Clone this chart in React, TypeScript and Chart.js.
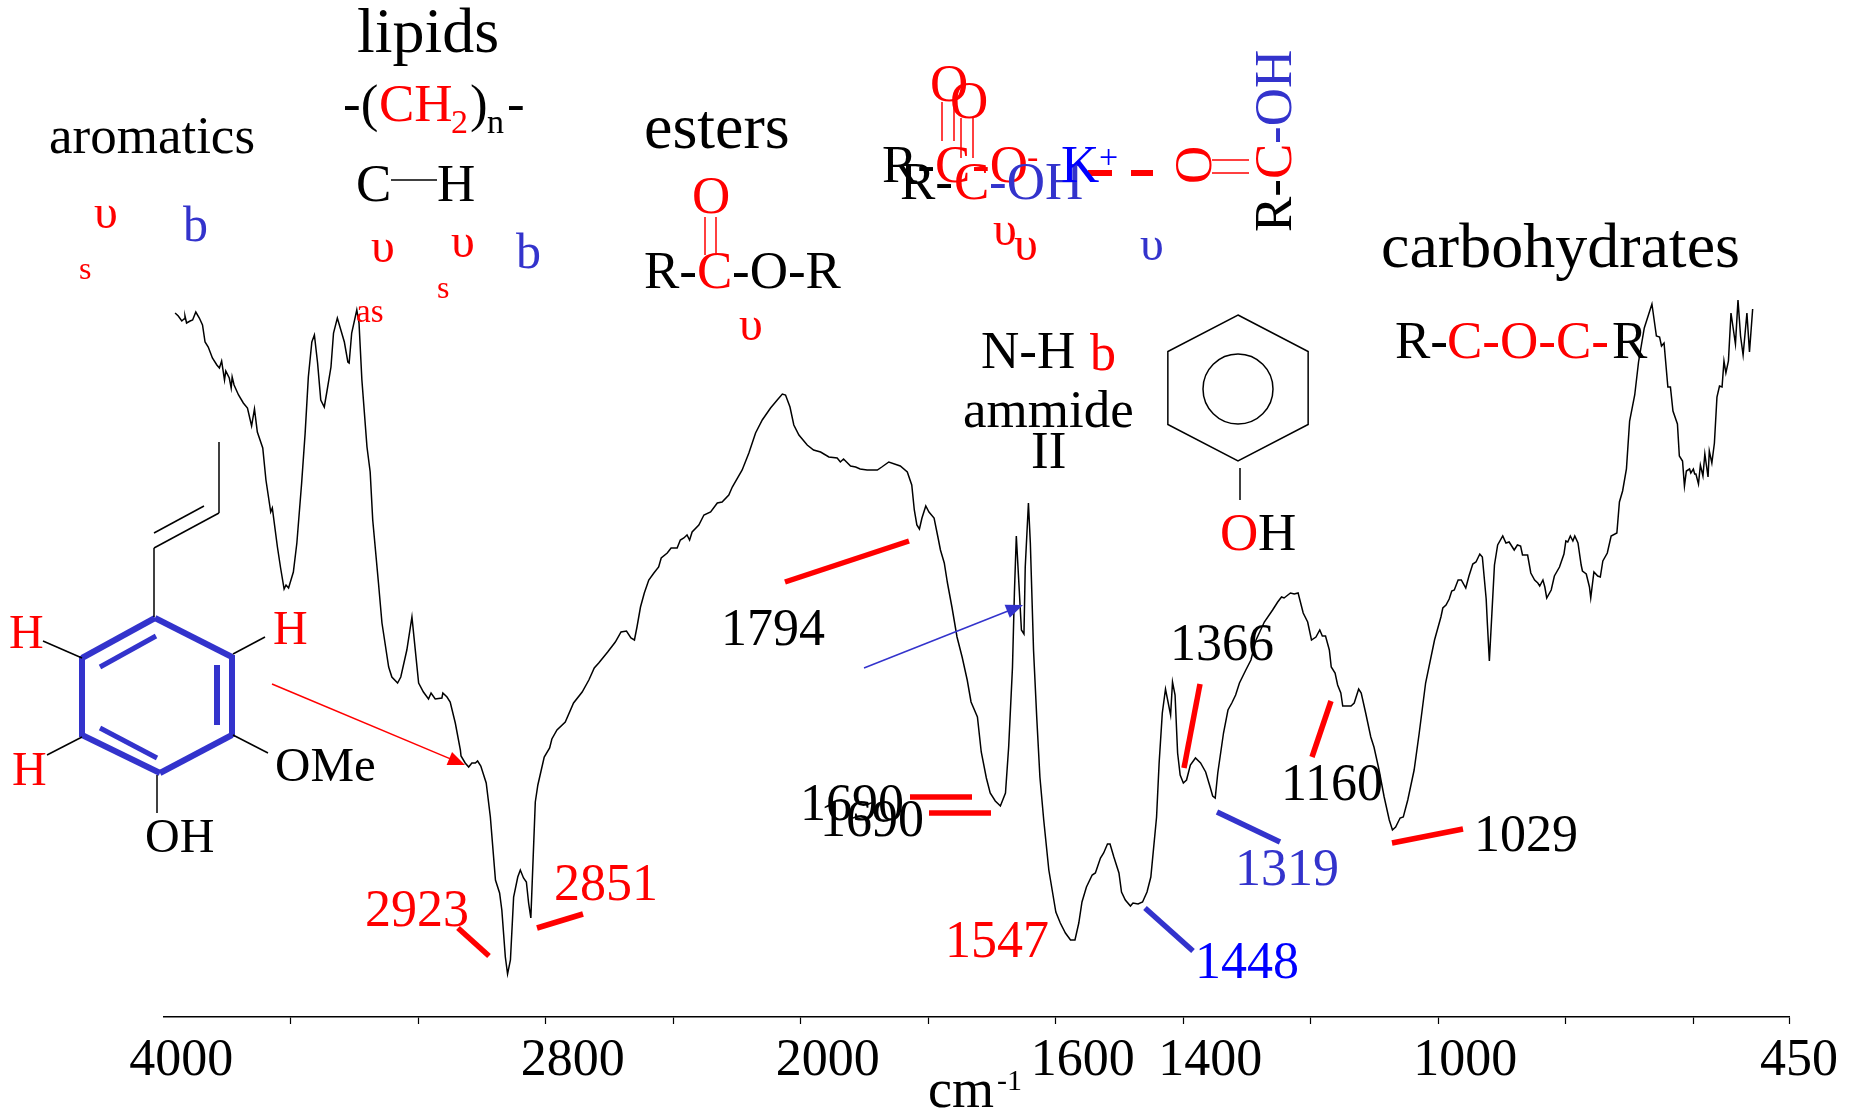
import React, { useEffect, useRef } from "react";
import { Chart, registerables } from "chart.js";

Chart.register(...registerables);

const FONT = '"Liberation Serif", "Times New Roman", serif';
const RED = "#ff0000";
const BLUE = "#3333cc";
const PURE = "#0000ff";
const BLACK = "#000000";

// Wavenumbers (cm-1) of the spectrum, high to low, by stretch of the curve
const wnAromatic = [3963,3953,3942,3935,3932,3927,3916,3908,3898,3887,3877,3869,3859,3846,3832,3824,3817,3808,3804,3793,3787,3784,3778,3764,3749,3736,3723,3714,3705,3688,3678,3663,3658,3642,3632,3621,3615,3607,3592,3581,3566,3555,3545,3534,3526,3516,3506,3495,3487,3474,3466,3454,3432,3421,3417,3409,3393,3386,3377,3361,3351,3343,3325,3314,3293,3283,3265,3255,3236,3220,3199,3184,3168,3160,3147,3126,3123,3110,3100,3084,3068];
const tAromatic = [70.4,70.1,69.6,69.8,70.1,69.4,69.6,69.7,70.5,69.9,69.2,67.5,67.0,65.9,65.2,64.9,65.6,63.7,64.6,63.9,62.9,64.0,63.2,62.2,61.4,60.9,59.1,60.8,58.5,56.9,53.7,50.5,50.9,47.0,44.9,42.8,43.2,42.9,44.5,47.4,53.4,58.4,64.0,67.5,68.2,65.4,61.7,61.0,62.5,65.0,68.4,69.9,67.5,65.5,65.4,68.4,70.7,69.4,63.7,57.0,54.5,49.7,43.4,39.4,35.0,34.0,33.4,34.0,36.7,40.0,33.4,32.5,31.8,32.4,31.8,31.9,32.4,32.0,31.5,29.4,26.7];

const wnLipid = [3066,3053,3042,3032,3021,3014,3004,2987,2974,2958,2945,2938,2927,2920,2911,2901,2888,2880,2870,2861,2854,2847,2840,2833,2825,2805,2788,2781,2765,2739,2713,2686,2665];
const tLipid = [26.1,25.4,25.0,25.4,25.4,25.6,25.1,23.4,20.0,13.7,12.4,10.7,6.0,4.3,5.7,12.0,14.0,14.7,13.9,13.5,11.4,9.9,15.7,21.5,23.2,26.0,26.9,27.8,28.7,29.5,31.4,32.5,33.7];

const wnMiddle = [2648,2634,2606,2582,2564,2547,2533,2522,2514,2503,2491,2477,2461,2446,2438,2419,2407,2388,2378,2367,2357,2349,2341,2320,2304,2283,2262,2247,2226,2215,2184,2163,2142,2121,2095,2074,2058,2048,2034,2022,2006,1990,1980,1969,1956,1943,1938,1933,1922,1914,1907,1896,1880,1873,1862,1844,1833,1826,1822,1818,1814,1810,1804,1799,1791,1785,1781];
const tMiddle = [34.9,35.4,36.5,37.5,38.5,38.6,37.9,37.7,39.0,41.0,42.4,43.7,44.4,45.0,45.9,46.4,46.9,46.9,47.7,47.9,48.2,47.7,48.5,49.2,50.2,50.5,51.4,51.5,52.2,53.0,54.7,56.4,58.4,59.7,60.9,61.7,62.3,62.2,61.0,59.2,58.2,57.2,56.7,56.5,56.0,55.9,55.5,55.8,55.1,55.0,54.8,54.7,54.7,55.0,55.5,55.1,54.5,53.2,50.7,49.2,48.8,49.9,51.1,50.5,49.9,48.0,46.7];

const wnAmide = [1775,1770,1763,1755,1747,1739,1733,1723,1717,1709,1703,1695,1687,1679,1674,1668,1665,1662,1658,1654,1650,1648,1643,1640,1635,1630,1625,1619,1611,1600,1593,1585,1577,1570,1564,1559,1552,1543,1538,1530,1525,1519,1515,1509,1501,1497,1491,1483,1479,1471,1464,1457,1451,1442,1438,1433,1428,1420,1417,1413,1409,1405,1400,1395,1389,1381];
const tAmide = [45.4,43.4,41.0,38.0,36.0,33.7,31.5,30.0,26.5,23.9,22.4,21.6,21.1,22.4,27.0,35.0,42.4,48.1,43.4,38.7,38.3,45.0,51.4,47.4,36.7,30.0,24.0,19.7,14.7,10.5,9.4,8.4,7.7,7.7,9.4,11.5,13.0,14.2,14.4,15.9,16.4,17.3,17.3,16.0,14.4,12.5,11.7,11.1,11.4,11.3,11.5,12.5,14.0,20.0,25.4,30.4,32.8,30.2,33.5,32.2,26.4,24.2,23.4,23.7,25.2,25.9];

const wnCarb = [1373,1365,1358,1354,1350,1346,1337,1330,1324,1318,1312,1302,1294,1286,1273,1260,1252,1246,1242,1232,1226,1220,1212,1205,1199,1192,1186,1182,1177,1171,1168,1162,1158,1153,1150,1143,1137,1132,1125,1121,1114,1106,1101,1093,1085,1077,1072,1067,1060,1055,1048,1038,1030,1020,1006,996];
const tCarb = [25.4,24.5,23.0,22.1,21.9,24.4,28.4,30.7,31.4,32.2,33.4,34.7,35.7,37.7,39.5,40.7,41.5,42.0,41.9,42.4,42.3,42.4,40.4,39.5,37.7,38.0,38.7,38.1,38.1,36.7,35.0,34.4,33.2,32.4,31.1,31.1,31.1,31.4,32.8,32.4,30.4,28.0,27.0,24.7,22.0,19.7,18.7,19.0,19.9,20.0,21.7,24.7,28.4,33.4,37.7,40.0];

const wnFinger = [993,988,983,979,975,969,964,957,952,946,941,935,931,925,923,920,916,912,907,899,894,889,881,876,871,868,860,855,849,844,841,836,833,830,823,818,810,803,800,797,793,789,786,781,776,774,768,763,761,756,750,746,742,735,729,720,716,711,705,700,692,686,677,665,658,653,650,646,640,636,632,625,622,617,614,611,606,604,600,598,596,592,589,585,582,577,575,571,567,563,559,555,552,549,545,541,534,530,526,522,516,512,507];
const tFinger = [40.9,41.2,41.8,42.6,42.7,43.7,43.7,42.9,44.1,45.3,45.5,46.3,46.0,41.8,39.2,35.6,40.4,45.2,47.2,48.1,47.4,47.5,46.7,47.2,47.1,46.2,46.2,44.4,43.7,43.4,43.1,43.7,43.0,41.9,42.7,44.1,45.0,46.3,47.6,47.5,48.1,47.6,48.1,47.4,45.2,44.6,44.3,43.0,41.9,44.5,44.1,44.0,45.6,46.4,48.1,48.4,51.5,52.6,54.8,59.6,62.2,65.5,68.9,71.3,68.1,68.0,67.1,67.4,63.0,63.0,60.6,59.3,56.1,55.6,53.1,54.6,54.8,54.4,54.8,54.3,54.3,53.3,55.2,54.1,56.3,54.0,56.6,55.4,57.4,62.0,63.1,63.0,65.6,64.4,65.6,70.4,67.3,71.7,68.1,66.2,70.4,66.5,70.8];

const wavenumbers = [...wnAromatic, ...wnLipid, ...wnMiddle, ...wnAmide, ...wnCarb, ...wnFinger];
const transmittance = [...tAromatic, ...tLipid, ...tMiddle, ...tAmide, ...tCarb, ...tFinger];

// Axis: the instrument's scale doubles its resolution below 2000 cm-1
const axisTicks = [4000, 3600, 3200, 2800, 2400, 2000, 1800, 1600, 1400, 1200, 1000, 800, 600, 450];
const labelledTicks = [4000, 2800, 2000, 1600, 1400, 1000, 450];
const labelNudge: Record<string, number> = { "4000": -9, "450": -17 };
const toAxis = (wn: number) => (wn >= 2000 ? (4000 - wn) / 400 : 5 + (2000 - wn) / 200);

// Annotations, in page pixels: text, x, baseline, size, colour, rotated
type Note = [string, number, number, number, string, boolean?];
const notes: Note[] = [
  ["aromatics", 49, 153, 53, BLACK],
  ["υ", 94, 228, 48, RED], ["s", 79, 279, 32, RED], ["b", 183, 241, 50, BLUE],
  ["lipids", 357, 52, 64, BLACK],
  ["-(", 343, 121, 53, BLACK], ["CH", 379, 121, 53, RED], ["2", 451, 133, 34, RED],
  [")", 470, 121, 53, BLACK], ["n", 487, 133, 34, BLACK], ["-", 507, 121, 53, BLACK],
  ["C", 356, 201, 53, BLACK], ["H", 437, 201, 53, BLACK],
  ["υ", 371, 262, 48, RED], ["as", 356, 322, 33, RED],
  ["υ", 451, 257, 48, RED], ["s", 437, 298, 32, RED], ["b", 516, 268, 50, BLUE],
  ["esters", 644, 148, 64, BLACK],
  ["O", 692, 213, 53, RED],
  ["R-", 644, 288, 53, BLACK], ["C", 697, 288, 53, RED], ["-O-R", 732, 288, 53, BLACK],
  ["υ", 739, 340, 48, RED],
  ["O", 930, 101, 53, RED], ["O", 950, 118, 53, RED],
  ["R-", 882, 182, 53, BLACK], ["C", 935, 182, 53, RED], ["-O", 972, 182, 53, RED], ["-", 1027, 168, 34, RED],
  ["R-", 900, 199, 53, BLACK], ["C", 954, 199, 53, RED], ["-OH", 989, 199, 53, BLUE],
  ["K", 1061, 182, 53, PURE], ["+", 1099, 168, 34, PURE],
  ["υ", 993, 245, 48, RED], ["υ", 1014, 260, 48, RED], ["υ", 1140, 260, 48, BLUE],
  ["O", 1211, 184, 53, RED, true],
  ["R-", 1291, 232, 53, BLACK, true], ["C", 1291, 179, 53, RED, true], ["-OH", 1291, 144, 53, BLUE, true],
  ["carbohydrates", 1381, 267, 64, BLACK],
  ["R-", 1395, 358, 53, BLACK], ["C-O-C-", 1447, 358, 53, RED], ["R", 1612, 358, 53, BLACK],
  ["N-H", 981, 368, 53, BLACK], ["b", 1090, 370, 52, RED],
  ["ammide", 963, 427, 53, BLACK], ["II", 1031, 468, 53, BLACK],
  ["O", 1220, 550, 53, RED], ["H", 1258, 550, 53, BLACK],
  ["H", 9, 648, 48, RED], ["H", 12, 785, 48, RED], ["H", 273, 644, 48, RED],
  ["OMe", 275, 781, 49, BLACK], ["OH", 145, 852, 48, BLACK],
  ["2923", 365, 926, 52, RED], ["2851", 554, 900, 52, RED],
  ["1794", 721, 645, 52, BLACK],
  ["1690", 800, 820, 52, BLACK], ["1690", 820, 836, 52, BLACK],
  ["1547", 945, 957, 52, RED], ["1448", 1195, 978, 52, PURE],
  ["1366", 1170, 660, 52, BLACK], ["1160", 1281, 800, 52, BLACK],
  ["1319", 1235, 885, 52, BLUE], ["1029", 1474, 851, 52, BLACK],
  ["cm", 928, 1107, 54, BLACK], ["-1", 997, 1090, 30, BLACK],
];

// Leader lines and structure strokes: x1, y1, x2, y2, width, colour
type Stroke = [number, number, number, number, number, string];
const strokes: Stroke[] = [
  [458, 928, 489, 956, 5.5, RED], [537, 928, 583, 914, 5.5, RED],
  [785, 582, 909, 541, 5.5, RED],
  [910, 797, 972, 797, 5.5, RED], [929, 813, 991, 813, 5.5, RED],
  [1145, 908, 1193, 951, 5.5, BLUE], [1200, 684, 1184, 768, 5.5, RED],
  [1331, 701, 1312, 757, 5.5, RED], [1217, 812, 1280, 842, 5.5, BLUE],
  [1392, 843, 1463, 829, 5.5, RED],
  [391, 180, 437, 180, 1.5, BLACK],
  [705, 217, 705, 255, 1.5, RED], [716, 217, 716, 255, 1.5, RED],
  [942, 102, 942, 141, 1.5, RED], [954, 102, 954, 141, 1.5, RED],
  [961, 118, 961, 158, 1.5, RED], [973, 118, 973, 158, 1.5, RED],
  [1088, 173, 1112, 173, 6, RED], [1131, 173, 1153, 173, 6, RED],
  [1212, 160, 1249, 160, 1.5, RED], [1212, 173, 1249, 173, 1.5, RED],
  [155, 618, 232, 657, 6, BLUE], [232, 655, 232, 737, 6, BLUE], [232, 735, 160, 773, 6, BLUE],
  [160, 773, 82, 735, 6, BLUE], [82, 737, 82, 656, 6, BLUE], [82, 658, 155, 618, 6, BLUE],
  [100, 667, 156, 636, 5, BLUE], [217, 665, 217, 725, 6, BLUE], [100, 728, 157, 758, 5, BLUE],
  [154, 617, 154, 548, 1.5, BLACK], [154, 548, 219, 513, 1.5, BLACK], [219, 513, 219, 442, 1.5, BLACK],
  [154, 533, 204, 506, 1.5, BLACK],
  [82, 658, 43, 641, 1.5, BLACK], [82, 737, 47, 755, 1.5, BLACK],
  [233, 654, 265, 637, 1.5, BLACK], [233, 735, 268, 753, 1.5, BLACK], [157, 775, 157, 813, 1.5, BLACK],
  [1240, 468, 1240, 500, 1.5, BLACK],
];

// Arrows: x1, y1, x2, y2, colour
const arrows: [number, number, number, number, string][] = [
  [272, 684, 465, 765, RED],
  [864, 668, 1023, 605, BLUE],
];

const annotate = {
  id: "annotate",
  beforeDraw(chart: any) {
    // The end labels do not sit at the same distance from their ticks as the others
    for (const it of chart.scales.x.getLabelItems()) {
      const shift = labelNudge[String(it.label)];
      if (shift && !it.moved) {
        it.options.translation[0] += shift;
        it.moved = true;
      }
    }
  },
  afterDatasetsDraw(chart: any) {
    const ctx = chart.ctx;
    ctx.save();
    ctx.lineCap = "butt";
    for (const [x1, y1, x2, y2, w, c] of strokes) {
      ctx.strokeStyle = c;
      ctx.lineWidth = w;
      ctx.beginPath();
      ctx.moveTo(x1, y1);
      ctx.lineTo(x2, y2);
      ctx.stroke();
    }
    // phenol ring
    ctx.strokeStyle = BLACK;
    ctx.lineWidth = 1.5;
    ctx.beginPath();
    for (let i = 0; i < 6; i++) {
      const a = -Math.PI / 2 + (i * Math.PI) / 3;
      const px = 1238 + 81 * Math.cos(a);
      const py = 388 + 73 * Math.sin(a);
      if (i === 0) ctx.moveTo(px, py);
      else ctx.lineTo(px, py);
    }
    ctx.closePath();
    ctx.stroke();
    ctx.beginPath();
    ctx.arc(1238, 389, 35, 0, Math.PI * 2);
    ctx.stroke();
    for (const [x1, y1, x2, y2, c] of arrows) {
      const a = Math.atan2(y2 - y1, x2 - x1);
      ctx.strokeStyle = c;
      ctx.fillStyle = c;
      ctx.lineWidth = 1.5;
      ctx.beginPath();
      ctx.moveTo(x1, y1);
      ctx.lineTo(x2 - 10 * Math.cos(a), y2 - 10 * Math.sin(a));
      ctx.stroke();
      ctx.beginPath();
      ctx.moveTo(x2, y2);
      ctx.lineTo(x2 - 17 * Math.cos(a) + 7 * Math.sin(a), y2 - 17 * Math.sin(a) - 7 * Math.cos(a));
      ctx.lineTo(x2 - 17 * Math.cos(a) - 7 * Math.sin(a), y2 - 17 * Math.sin(a) + 7 * Math.cos(a));
      ctx.closePath();
      ctx.fill();
    }
    ctx.textAlign = "left";
    ctx.textBaseline = "alphabetic";
    for (const [text, x, y, size, color, rotated] of notes) {
      ctx.font = `${size}px ${FONT}`;
      ctx.fillStyle = color;
      if (rotated) {
        ctx.save();
        ctx.translate(x, y);
        ctx.rotate(-Math.PI / 2);
        ctx.fillText(text, 0, 0);
        ctx.restore();
      } else {
        ctx.fillText(text, x, y);
      }
    }
    ctx.restore();
  },
};

export default function App() {
  const ref = useRef<HTMLCanvasElement>(null);
  useEffect(() => {
    if (!ref.current) return;
    const points = wavenumbers.map((wn, i) => ({ x: toAxis(wn), y: transmittance[i] }));
    const chart = new Chart(ref.current, {
      type: "line",
      data: {
        datasets: [
          {
            label: "Spectrum",
            data: points,
            borderColor: "#000000",
            borderWidth: 1.5,
            pointRadius: 0,
            tension: 0,
            fill: false,
          },
        ],
      },
      options: {
        responsive: false,
        animation: false,
        layout: { padding: { left: 163.3, right: 71, top: 0, bottom: 0 } },
        plugins: { legend: { display: false }, tooltip: { enabled: false } },
        scales: {
          x: {
            type: "linear",
            min: 0,
            max: toAxis(450),
            afterBuildTicks: (axis: any) => {
              axis.ticks = axisTicks.map((wn) => ({ value: toAxis(wn) }));
            },
            afterFit: (axis: any) => {
              axis.height = 96;
            },
            border: { display: true, color: "#000000", width: 1.5 },
            grid: {
              drawOnChartArea: false,
              drawTicks: true,
              tickLength: 7,
              tickWidth: 1.2,
              tickColor: (c: any) => (c.index === 0 ? "rgba(0,0,0,0)" : "#000000"),
            },
            ticks: {
              autoSkip: false,
              maxRotation: 0,
              minRotation: 0,
              labelOffset: 27,
              padding: 6,
              color: "#000000",
              font: { family: FONT, size: 52 },
              callback: (_v: any, i: number) =>
                labelledTicks.includes(axisTicks[i]) ? String(axisTicks[i]) : "",
            },
          },
          y: { display: false, min: 0, max: 101.7 },
        },
      },
      plugins: [annotate],
    } as any);
    return () => chart.destroy();
  }, []);
  return (
    <div style={{ position: "fixed", left: 0, top: 0, width: 1860, height: 1113, background: "#fff" }}>
      <canvas ref={ref} width={1860} height={1113} style={{ display: "block" }} />
    </div>
  );
}
